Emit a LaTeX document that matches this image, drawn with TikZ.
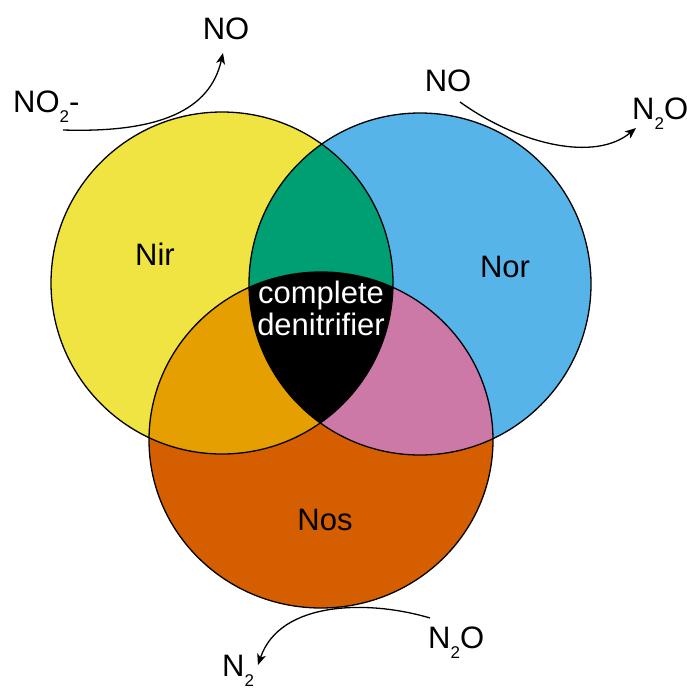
\documentclass[tikz,border=0pt]{standalone}
\usepackage{fontspec}
\setmainfont{Liberation Sans}
\usetikzlibrary{arrows.meta}
\definecolor{cyel}{HTML}{F0E442}
\definecolor{cblue}{HTML}{56B4E9}
\definecolor{corange}{HTML}{D55E00}
\definecolor{cgreen}{HTML}{009E73}
\definecolor{camber}{HTML}{E69F00}
\definecolor{cpink}{HTML}{CC79A7}
\newcommand\subtwo{\raisebox{-0.34em}{\fontsize{17}{20}\selectfont 2}}
\begin{document}
\begin{tikzpicture}[x=1pt,y=-1pt,
  lbl/.style={inner sep=0pt, font=\fontsize{31}{37}\selectfont},
  flow/.style={line width=1.3pt, -{Stealth[length=11pt,width=9pt,inset=3pt]}},
  ring/.style={line width=1.3pt, draw=black}]
\useasboundingbox (0,0) rectangle (687,689);
\coordinate (nirc) at (222,283);
\coordinate (norc) at (420,284);
\coordinate (nosc) at (321,440);
\def\nirpath{(nirc) circle [radius=171]}
\def\norpath{(norc) circle [radius=171]}
\def\nospath{(nosc) ellipse [x radius=172, y radius=168]}
% base fills
\fill[cyel] \nirpath;
\fill[cblue] \norpath;
\fill[corange] \nospath;
% pairwise intersections
\begin{scope}\clip \nirpath; \fill[cgreen] \norpath; \end{scope}
\begin{scope}\clip \nirpath; \fill[camber] \nospath; \end{scope}
\begin{scope}\clip \norpath; \fill[cpink] \nospath; \end{scope}
\begin{scope}\clip \nirpath; \clip \norpath; \fill[black] \nospath; \end{scope}
% outlines
\draw[ring] \nirpath;
\draw[ring] \norpath;
\draw[ring] \nospath;
% labels
\node[lbl] (nir) at (155,254) {Nir};
\node[lbl] (nor) at (505,267) {Nor};
\node[lbl] (nos) at (325,520) {Nos};
\node[lbl, text=white, anchor=base] (comp) at (321,303) {complete};
\node[lbl, text=white, anchor=base] (denit) at (321,335) {denitrifier};
% species
\node[lbl] (no1) at (226,29) {NO};
\node[lbl, anchor=base west] (no2) at (13,112) {NO\subtwo-};
\node[lbl] (no3) at (448,81) {NO};
\node[lbl, anchor=base west] (n2o1) at (632,119) {N\subtwo O};
\node[lbl, anchor=base west] (n2o2) at (428,648) {N\subtwo O};
\node[lbl, anchor=base west] (n2) at (222,676) {N\subtwo};
% arrows
\coordinate (a1s) at (63,130);
\coordinate (a1e) at (223,53);
\coordinate (a2s) at (460,102);
\coordinate (a2e) at (636,128);
\coordinate (a3s) at (430,618);
\coordinate (a3e) at (258,665);
\draw[flow] (a1s) .. controls (160,133) and (210,110) .. (a1e);
\draw[flow] (a2s) .. controls (520,145) and (595,162) .. (a2e);
\draw[flow] (a3s) .. controls (370,600) and (280,600) .. (a3e);
\end{tikzpicture}
\end{document}
